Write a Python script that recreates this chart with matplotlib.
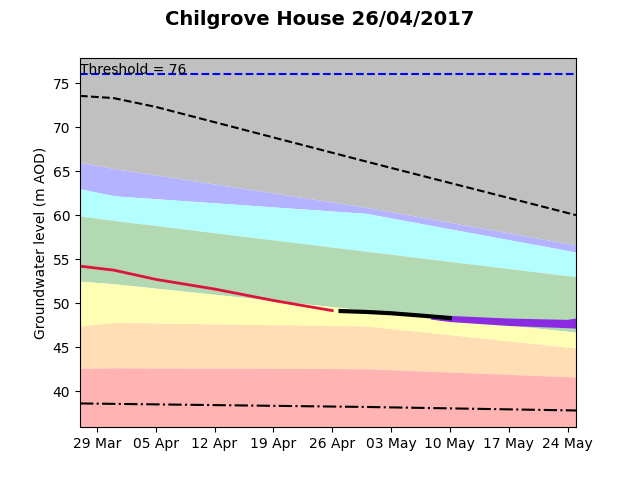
import pandas as pd
import matplotlib
matplotlib.use("Agg")
import matplotlib.pyplot as plt
import matplotlib.dates as mdates

# Envelope bands (boundaries at a few dates)
band_dates = pd.to_datetime(["2017-03-27", "2017-03-31", "2017-04-30", "2017-05-25"])
band_ceiling = [80, 80, 80, 80]
purple_top = [66.0, 65.3, 60.9, 56.6]
cyan_top = [63.0, 62.2, 60.2, 55.8]
green_top = [59.9, 59.4, 55.9, 53.0]
yellow_top = [52.5, 52.2, 49.2, 46.7]
orange_top = [47.4, 47.8, 47.4, 44.9]
red_top = [42.6, 42.65, 42.55, 41.6]
band_floor = [30, 30, 30, 30]

# Max / min historic lines
max_dates = pd.to_datetime(["2017-03-27", "2017-03-31", "2017-04-05", "2017-04-30", "2017-05-25"])
max_level = [73.55, 73.3, 72.3, 66.1, 60.0]
min_dates = pd.to_datetime(["2017-03-27", "2017-04-30", "2017-05-25"])
min_level = [38.6, 38.2, 37.8]

# Observed levels
obs_dates = pd.to_datetime(["2017-03-27", "2017-03-31", "2017-04-05", "2017-04-12", "2017-04-19", "2017-04-26"])
obs_level = [54.2, 53.75, 52.7, 51.6, 50.3, 49.15]

# Forecast (black) and ensemble (purple)
fc_dates = pd.to_datetime(["2017-04-27", "2017-04-30", "2017-05-03", "2017-05-07", "2017-05-10"])
fc_level = [49.1, 49.0, 48.85, 48.55, 48.3]
ens_dates = pd.to_datetime(["2017-05-08", "2017-05-10", "2017-05-17", "2017-05-24", "2017-05-25"])
ens_levels = [
    [48.45, 48.35, 48.05, 47.9, 48.05],
    [48.4, 48.25, 47.9, 47.7, 47.75],
    [48.35, 48.15, 47.75, 47.5, 47.5],
    [48.3, 48.05, 47.6, 47.35, 47.3],
]

threshold = 76
tick_dates = pd.date_range("2017-03-29", "2017-05-24", freq="7D")

fig, ax = plt.subplots(figsize=(6.4, 4.8), dpi=100)

ax.fill_between(band_dates, purple_top, band_ceiling, color="#c0c0c0", lw=0)
ax.fill_between(band_dates, cyan_top, purple_top, color="#b3b3ff", lw=0)
ax.fill_between(band_dates, green_top, cyan_top, color="#b3ffff", lw=0)
ax.fill_between(band_dates, yellow_top, green_top, color="#b3d9b3", lw=0)
ax.fill_between(band_dates, orange_top, yellow_top, color="#ffffb3", lw=0)
ax.fill_between(band_dates, red_top, orange_top, color="#ffdeb3", lw=0)
ax.fill_between(band_dates, band_floor, red_top, color="#ffb3b3", lw=0)

ax.plot(max_dates, max_level, "k--", lw=1.5)
ax.plot(min_dates, min_level, "k-.", lw=1.5)
ax.axhline(threshold, color="blue", ls="--", lw=1.5)

ax.plot(obs_dates, obs_level, color="#dc143c", lw=2)
for ens in ens_levels:
    ax.plot(ens_dates, ens, color="#8a2be2", lw=2.5)
ax.plot(fc_dates, fc_level, color="black", lw=3)

ax.set_xlim(pd.Timestamp("2017-03-27"), pd.Timestamp("2017-05-25"))
ax.set_ylim(35.9, 77.9)
ax.text(pd.Timestamp("2017-03-27"), threshold, "Threshold = %d" % threshold,
        va="baseline", ha="left", fontsize=10)

ax.set_xticks(tick_dates)
ax.xaxis.set_major_formatter(mdates.DateFormatter("%d %b"))
ax.set_ylabel("Groundwater level (m AOD)")
fig.suptitle("Chilgrove House 26/04/2017", fontsize=14, fontweight="bold")

fig.savefig("out.png", dpi=100)
